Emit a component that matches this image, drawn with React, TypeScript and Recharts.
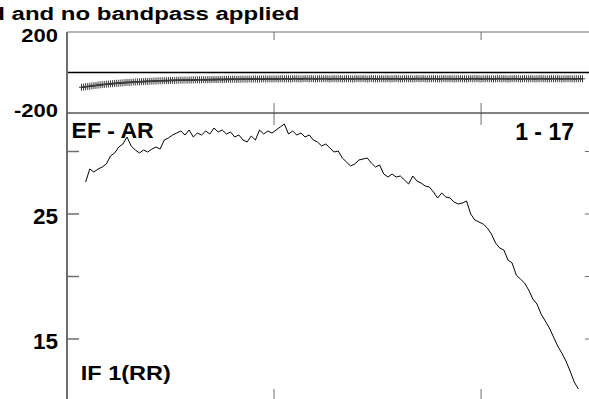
import React from 'react'
import { ComposedChart, Line, ReferenceLine, XAxis, YAxis } from 'recharts'

// amplitude per channel, channels 9, 11, ... 247
const ampValues = [
  27.56, 28.6, 28.36, 28.6, 28.76, 29.0, 29.64, 29.88, 30.36, 30.6,
  31.16, 30.44, 30.12, 29.88, 30.12, 29.96, 30.2, 30.36, 30.2, 30.92,
  31.08, 31.32, 31.48, 31.64, 31.32, 31.72, 31.16, 31.48, 31.32, 31.64,
  31.4, 31.88, 31.56, 31.72, 31.4, 31.56, 31.16, 31.32, 30.92, 30.76,
  31.24, 30.92, 31.72, 31.4, 31.64, 31.48, 31.72, 31.96, 32.2, 31.4,
  31.64, 31.32, 31.48, 31.16, 31.32, 30.92, 30.76, 30.44, 30.6, 30.28,
  29.96, 30.04, 29.48, 29.16, 28.84, 29.0, 29.32, 29.4, 29.48, 29.08,
  28.76, 28.92, 28.2, 27.96, 28.2, 27.96, 28.04, 27.72, 27.4, 28.04,
  27.64, 27.48, 27.24, 27.16, 26.76, 26.28, 26.68, 26.36, 26.28, 25.96,
  25.8, 25.88, 26.04, 25.0, 24.52, 24.36, 24.2, 23.88, 23.4, 22.68,
  22.28, 22.12, 21.32, 21.08, 20.12, 19.8, 19.48, 18.92, 18.2, 17.8,
  17.0, 16.44, 15.88, 15.16, 14.44, 13.88, 13.24, 12.44, 11.56, 11.0,
]
const ampFirstChannel = 9

// phase (degrees) per channel, channels 7 ... 249
const phaseValues = [
  -73, -72, -70, -69, -68, -66, -65, -64, -62, -61,
  -60, -59, -58, -57, -56, -55, -54, -53, -53, -52,
  -51, -50, -49, -49, -48, -47, -47, -46, -46, -45,
  -45, -44, -44, -43, -43, -42, -42, -41, -41, -41,
  -40, -40, -40, -39, -39, -39, -38, -38, -38, -38,
  -37, -38, -37, -37, -36, -37, -36, -36, -36, -35,
  -36, -35, -35, -35, -34, -35, -34, -34, -35, -34,
  -34, -33, -34, -33, -33, -34, -33, -33, -32, -33,
  -33, -32, -33, -32, -32, -33, -32, -32, -31, -32,
  -32, -31, -32, -32, -31, -32, -31, -31, -32, -31,
  -31, -32, -31, -30, -31, -31, -32, -31, -30, -31,
  -31, -30, -31, -32, -31, -30, -31, -31, -30, -31,
  -32, -31, -30, -31, -31, -30, -32, -31, -30, -31,
  -31, -32, -31, -30, -31, -31, -30, -31, -32, -31,
  -30, -31, -31, -32, -31, -30, -31, -31, -30, -32,
  -31, -31, -30, -31, -32, -31, -31, -30, -31, -31,
  -32, -31, -30, -31, -31, -30, -31, -32, -31, -31,
  -30, -31, -31, -32, -31, -30, -31, -31, -30, -31,
  -32, -31, -31, -30, -31, -31, -32, -31, -30, -31,
  -31, -30, -31, -32, -31, -31, -30, -31, -31, -32,
  -31, -30, -31, -31, -30, -31, -32, -31, -31, -30,
  -31, -31, -32, -31, -30, -31, -31, -30, -31, -32,
  -31, -31, -30, -31, -31, -32, -31, -30, -31, -31,
  -30, -31, -32, -31, -31, -30, -31, -31, -32, -31,
  -31, -30, -31,
]
const phaseFirstChannel = 7

const channelDomain = [0, 256]
const channelTicks = [100, 200]
const phaseDomain = [-200, 200]
const phaseTicks = [-200, 200]
const ampDomain = [10.2, 33.08]
const ampTicks = [15, 20, 25, 30]
const ampLabelled = [15, 25]

const titleText = 'd and no bandpass applied'
const baselineText = 'EF - AR'
const timeText = '1 - 17'
const ifText = 'IF 1(RR)'

const ampData = ampValues.map((amp, i) => ({ ch: ampFirstChannel + 2 * i, amp }))
const phaseData = phaseValues.map((phase, i) => ({ ch: phaseFirstChannel + i, phase }))

const FONT = '"Liberation Sans", Arial, Helvetica, sans-serif'
const AXIS_GRAY = '#6e6e6e'

function Stretched({ x, y, size, sy = 1, anchor = 'start', children }: any) {
  return (
    <text
      transform={`translate(${x} ${y}) scale(1 ${sy})`}
      textAnchor={anchor}
      fontFamily={FONT}
      fontWeight="bold"
      fontSize={size}
      fill="#000"
    >
      {children}
    </text>
  )
}

function PhaseTick({ x, y, payload }: any) {
  const v = payload.value
  const dy = v > 0 ? 9.7 : 3.7
  return (
    <Stretched x={x} y={y + dy} size={22} sy={0.8} anchor="end">
      {String(v)}
    </Stretched>
  )
}

function AmpTick({ x, y, payload }: any) {
  const v = payload.value
  if (!ampLabelled.includes(v)) return <g />
  return (
    <Stretched x={x} y={y + 10} size={22.5} sy={0.97} anchor="end">
      {String(v)}
    </Stretched>
  )
}

function PlusDot({ cx, cy }: any) {
  if (cx == null || cy == null) return <g />
  return (
    <path
      d={`M${cx - 2.5} ${cy}H${cx + 2.5}M${cx} ${cy - 3.5}V${cy + 3.5}`}
      stroke="#3c3c3c"
      strokeWidth={1}
      fill="none"
    />
  )
}

const blank = () => ''

// plot area: x 67..597, y 32..113 (page pixels)
function PhasePanel() {
  return (
    <ComposedChart width={597} height={130} data={phaseData} margin={{ top: 31, right: 0, bottom: 16, left: 0 }}>
      <XAxis
        xAxisId="t"
        orientation="top"
        dataKey="ch"
        type="number"
        domain={channelDomain}
        ticks={channelTicks}
        allowDataOverflow
        height={1}
        tickSize={-8}
        tickFormatter={blank}
        axisLine={{ stroke: AXIS_GRAY }}
        tickLine={{ stroke: AXIS_GRAY }}
      />
      <XAxis
        xAxisId="b"
        dataKey="ch"
        type="number"
        domain={channelDomain}
        ticks={channelTicks}
        allowDataOverflow
        height={1}
        tickSize={-10}
        tickFormatter={blank}
        axisLine={{ stroke: '#000' }}
        tickLine={{ stroke: AXIS_GRAY }}
      />
      <YAxis
        yAxisId="l"
        type="number"
        domain={phaseDomain}
        ticks={phaseTicks}
        allowDataOverflow
        width={67}
        tickSize={0}
        tickMargin={9}
        tickLine={false}
        axisLine={{ stroke: AXIS_GRAY, strokeWidth: 2 }}
        tick={<PhaseTick />}
      />
      <ReferenceLine xAxisId="b" yAxisId="l" y={0} stroke="#000" strokeWidth={1.4} />
      <Line
        xAxisId="b"
        yAxisId="l"
        dataKey="phase"
        stroke="#000"
        strokeWidth={1.6}
        dot={<PlusDot />}
        isAnimationActive={false}
      />
    </ComposedChart>
  )
}

// plot area: x 67..597, y 113..399 (page pixels); chart placed at top 112
function AmpPanel() {
  return (
    <ComposedChart width={598} height={288} data={ampData} margin={{ top: 0, right: 0, bottom: 0, left: 0 }}>
      <XAxis
        xAxisId="t"
        orientation="top"
        dataKey="ch"
        type="number"
        domain={channelDomain}
        ticks={channelTicks}
        allowDataOverflow
        height={1}
        tickSize={-12}
        tickFormatter={blank}
        axisLine={false}
        tickLine={{ stroke: AXIS_GRAY }}
      />
      <XAxis
        xAxisId="b"
        dataKey="ch"
        type="number"
        domain={channelDomain}
        ticks={channelTicks}
        allowDataOverflow
        height={1}
        tickSize={-10}
        tickFormatter={blank}
        axisLine={false}
        tickLine={{ stroke: AXIS_GRAY }}
      />
      <YAxis
        yAxisId="l"
        type="number"
        domain={ampDomain}
        ticks={ampTicks}
        allowDataOverflow
        width={67}
        tickSize={-12}
        tickMargin={21}
        tickLine={{ stroke: AXIS_GRAY, strokeWidth: 1.5 }}
        axisLine={{ stroke: AXIS_GRAY, strokeWidth: 2 }}
        tick={<AmpTick />}
      />
      <YAxis
        yAxisId="r"
        orientation="right"
        type="number"
        domain={ampDomain}
        ticks={ampTicks}
        allowDataOverflow
        width={1}
        tickSize={-12}
        tickFormatter={blank}
        axisLine={false}
        tickLine={{ stroke: AXIS_GRAY }}
      />
      <Line
        xAxisId="b"
        yAxisId="l"
        dataKey="amp"
        stroke="#000"
        strokeWidth={1}
        dot={false}
        isAnimationActive={false}
      />
    </ComposedChart>
  )
}

export default function App() {
  return (
    <div
      style={{
        position: 'absolute',
        left: 0,
        top: 0,
        width: 589,
        height: 399,
        overflow: 'hidden',
        background: '#fff',
      }}
    >
      <div style={{ position: 'absolute', left: 0, top: 112 }}>
        <AmpPanel />
      </div>
      <div style={{ position: 'absolute', left: 0, top: 0 }}>
        <PhasePanel />
      </div>
      <svg
        width={589}
        height={399}
        style={{ position: 'absolute', left: 0, top: 0, pointerEvents: 'none' }}
      >
        <Stretched x={299.5} y={20} size={24} sy={0.78} anchor="end">
          {titleText}
        </Stretched>
        <Stretched x={71.6} y={137.7} size={23} sy={0.93}>
          {baselineText}
        </Stretched>
        <Stretched x={574} y={140} size={23} anchor="end">
          {timeText}
        </Stretched>
        <Stretched x={80.8} y={380} size={23.5} sy={0.89}>
          {ifText}
        </Stretched>
      </svg>
    </div>
  )
}
